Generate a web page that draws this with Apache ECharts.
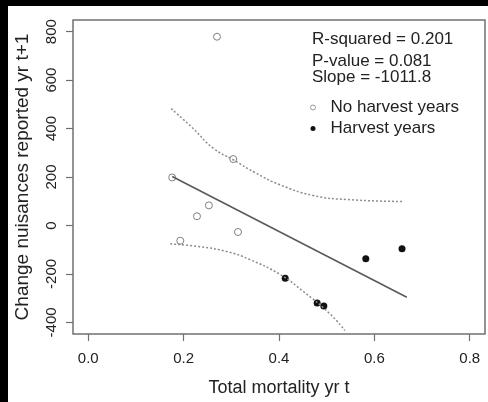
<!DOCTYPE html>
<html>
<head>
<meta charset="utf-8">
<script src="https://cdn.jsdelivr.net/npm/echarts@6/dist/echarts.min.js"></script>
<style>
  html, body { margin: 0; padding: 0; background: #000; }
  #chart { position: absolute; left: 0; top: 0; width: 488px; height: 402px; }
</style>
</head>
<body>
<div id="chart"></div>
<script>
// ---- data ----
const noHarvestX = [0.270, 0.304, 0.176, 0.253, 0.228, 0.314, 0.193];
const noHarvestY = [779, 274, 198, 83, 38, -27, -63];
const harvestX = [0.413, 0.480, 0.494, 0.582, 0.658];
const harvestY = [-218, -320, -332, -137, -96];
const fitX = [0.176, 0.668];
const fitY = [202, -296];
const upperX = [0.174, 0.220, 0.262, 0.304, 0.350, 0.402, 0.471, 0.542, 0.658];
const upperY = [482, 400, 319, 271, 218, 168, 124, 107, 99];
const lowerX = [0.172, 0.235, 0.291, 0.339, 0.402, 0.450, 0.507, 0.538];
const lowerY = [-76, -88, -108, -141, -202, -271, -365, -434];
const xTicks = [0, 0.2, 0.4, 0.6, 0.8];
const yTicks = [-400, -200, 0, 200, 400, 600, 800];
const statLines = ['R-squared = 0.201', 'P-value = 0.081', 'Slope = -1011.8'];
const seriesNames = ['No harvest years', 'Harvest years'];
const xTitle = 'Total mortality yr t';
const yTitle = 'Change nuisances reported yr t+1';

const zip = (xs, ys) => xs.map((x, i) => [x, ys[i]]);
const FONT = 'Liberation Sans, Arial, sans-serif';
const TXT = '#222222';

const chart = echarts.init(document.getElementById('chart'), null, { renderer: 'canvas' });
chart.setOption({
  backgroundColor: '#ffffff',
  animation: false,
  textStyle: { fontFamily: FONT },
  grid: { left: 73, right: 3, top: 20, bottom: 64, show: true, borderColor: '#707070', borderWidth: 1.5, backgroundColor: 'transparent' },
  xAxis: {
    type: 'value', min: -0.032, max: 0.832,
    name: xTitle, nameLocation: 'middle', nameGap: 45,
    nameTextStyle: { fontSize: 18, color: TXT, fontFamily: FONT },
    axisLine: { show: false, onZero: false },
    splitLine: { show: false },
    axisTick: { show: true, inside: false, length: 7, lineStyle: { color: '#707070', width: 1.2 }, customValues: xTicks },
    axisLabel: { margin: 17, fontSize: 15, color: TXT, fontFamily: FONT, customValues: xTicks, formatter: v => v.toFixed(1) }
  },
  yAxis: {
    type: 'value', min: -448, max: 848,
    name: yTitle, nameLocation: 'middle', nameGap: 41, nameRotate: 90,
    nameTextStyle: { fontSize: 19, color: TXT, fontFamily: FONT },
    axisLine: { show: false, onZero: false },
    splitLine: { show: false },
    axisTick: { show: true, inside: false, length: 7, lineStyle: { color: '#707070', width: 1.2 }, customValues: yTicks },
    axisLabel: { margin: 14, rotate: 90, fontSize: 15, color: TXT, fontFamily: FONT, customValues: yTicks }
  },
  legend: {
    orient: 'vertical', left: 310, top: 99, itemGap: 4, itemWidth: 5, itemHeight: 5,
    padding: 0,
    textStyle: { fontSize: 17, color: TXT, fontFamily: FONT, padding: [0, 0, 0, 10] },
    data: [
      { name: seriesNames[0], icon: 'circle', itemStyle: { color: '#fff', borderColor: '#999', borderWidth: 1 } },
      { name: seriesNames[1], icon: 'circle', itemStyle: { color: '#111', borderWidth: 0, opacity: 1 } }
    ]
  },
  graphic: [
    { type: 'rect', left: 0, top: 0, shape: { width: 488, height: 6 }, style: { fill: '#000' }, z: 100 },
    { type: 'rect', left: 0, top: 0, shape: { width: 8, height: 402 }, style: { fill: '#000' }, z: 100 },
    { type: 'text', left: 312, top: 31, style: { text: statLines[0], fontSize: 17, fill: TXT, fontFamily: FONT } },
    { type: 'text', left: 312, top: 53, style: { text: statLines[1], fontSize: 17, fill: TXT, fontFamily: FONT } },
    { type: 'text', left: 312, top: 69, style: { text: statLines[2], fontSize: 17, fill: TXT, fontFamily: FONT } }
  ],
  series: [
    {
      name: 'upper', type: 'line', data: zip(upperX, upperY), smooth: true, showSymbol: false,
      lineStyle: { color: '#8c8c8c', width: 1.5, type: [2, 2] }, silent: true
    },
    {
      name: 'lower', type: 'line', data: zip(lowerX, lowerY), smooth: true, showSymbol: false,
      lineStyle: { color: '#8c8c8c', width: 1.5, type: [2, 2] }, silent: true
    },
    {
      name: 'fit', type: 'line', data: zip(fitX, fitY), showSymbol: false,
      lineStyle: { color: '#5a5a5a', width: 1.6 }, silent: true
    },
    {
      name: seriesNames[0], type: 'scatter', data: zip(noHarvestX, noHarvestY),
      symbol: 'circle', symbolSize: 7,
      itemStyle: { color: '#fff', borderColor: '#808080', borderWidth: 1, opacity: 1 }
    },
    {
      name: seriesNames[1], type: 'scatter', data: zip(harvestX, harvestY),
      symbol: 'circle', symbolSize: 7,
      itemStyle: { color: '#111', opacity: 1 }
    }
  ]
});
</script>
</body>
</html>
